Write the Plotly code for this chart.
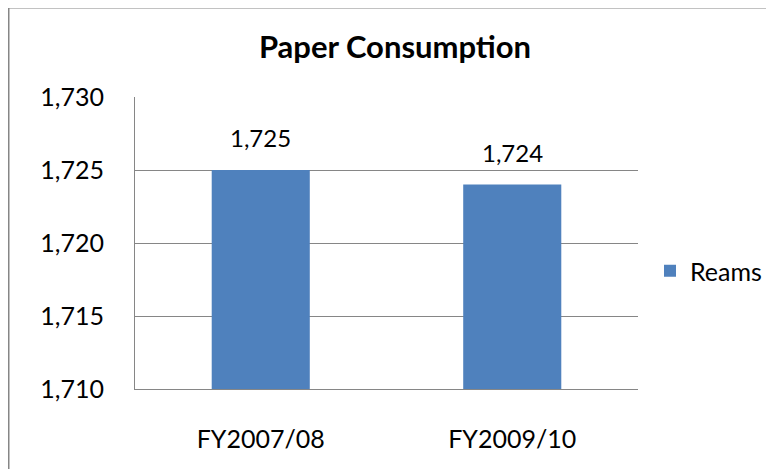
import plotly.graph_objects as go

categories = ["FY2007/08", "FY2009/10"]
reams = [1725, 1724]
series_name = "Reams"
title_text = "Paper Consumption"
y_ticks = [1710, 1715, 1720, 1725, 1730]

W, H = 774, 469
OFF = 8  # page body margin offset
L, R, T, B = 135 - OFF, 638 - OFF, 97 - OFF, 389 - OFF
FONT = "Lato, Calibri, sans-serif"

fig = go.Figure()
fig.add_trace(go.Bar(
    x=categories, y=reams, name=series_name,
    marker=dict(color="#4F81BD", line=dict(width=0)),
    showlegend=True,
))

for c, v in zip(categories, reams):
    fig.add_annotation(x=c, y=v, text=f"{v:,}", showarrow=False,
                       yanchor="bottom", yshift=16,
                       font=dict(family=FONT, size=24, color="#000000"))

pw, ph = R - L, B - T
def px(x):
    return (x - OFF - L) / pw
def py(y):
    return (B - (y - OFF)) / ph

# chart outer border (only top and left visible)
fig.add_shape(type="line", xref="paper", yref="paper",
              x0=px(8.5), x1=px(790), y0=py(7.5), y1=py(7.5),
              line=dict(color="#868686", width=2))
fig.add_shape(type="line", xref="paper", yref="paper",
              x0=px(8.5), x1=px(8.5), y0=py(7.5), y1=py(490),
              line=dict(color="#868686", width=2))

fig.update_layout(
    width=W, height=H,
    margin=dict(l=L, r=W - R, t=T, b=H - B, pad=0),
    paper_bgcolor="white", plot_bgcolor="white",
    bargap=0.61,
    title=dict(text=f"<b>{title_text}</b>", x=(395 - OFF) / W, xanchor="center",
               y=1 - (47 - OFF) / H, yanchor="middle",
               font=dict(family=FONT, size=31, color="#000000")),
    legend=dict(x=px(650), xanchor="left", y=py(271), yanchor="middle",
                font=dict(family=FONT, size=25, color="#000000"),
                bgcolor="rgba(0,0,0,0)", itemwidth=30),
    font=dict(family=FONT, color="#000000"),
)
fig.update_yaxes(range=[1710, 1730], tickvals=y_ticks, tickformat=",",
                 showgrid=True, gridcolor="#868686", gridwidth=1,
                 showline=True, linecolor="#868686", linewidth=1,
                 zeroline=False, ticks="", ticklabelstandoff=25,
                 tickfont=dict(family=FONT, size=25, color="#000000"))
fig.update_xaxes(showgrid=False, showline=True, linecolor="#868686", linewidth=1,
                 ticks="", ticklabelstandoff=28,
                 tickfont=dict(family=FONT, size=25, color="#000000"))

fig.write_html("out.html")
